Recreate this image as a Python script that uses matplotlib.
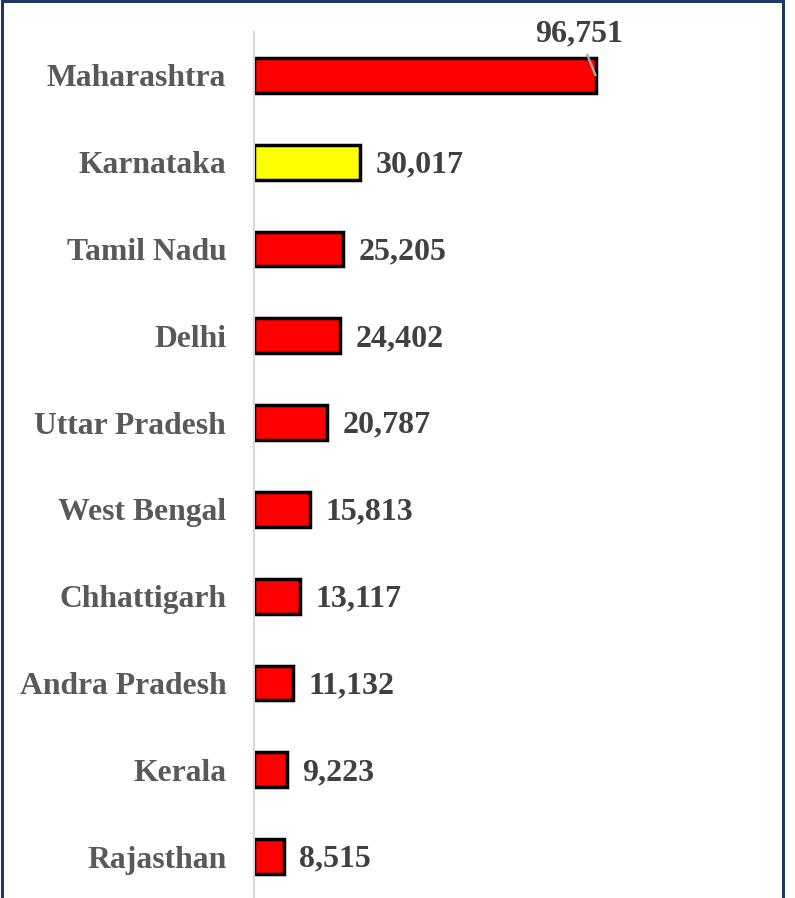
import matplotlib.pyplot as plt
from matplotlib.patches import Rectangle

# Data
states = ['Maharashtra', 'Karnataka', 'Tamil Nadu', 'Delhi', 'Uttar Pradesh',
          'West Bengal', 'Chhattigarh', 'Andra Pradesh', 'Kerala', 'Rajasthan']
values = [96751, 30017, 25205, 24402, 20787, 15813, 13117, 11132, 9223, 8515]
highlight = 'Karnataka'

plt.rcParams['font.family'] = ['Liberation Serif', 'DejaVu Serif']
plt.rcParams['font.weight'] = 'bold'

W, H = 795, 898
fig = plt.figure(figsize=(W / 100, H / 100), dpi=100)
ax = fig.add_axes([254 / W, -2 / H, 526 / W, (H - 32 + 2) / H])

colors = ['#FFFF00' if s == highlight else '#FF0000' for s in states]
ypos = list(range(len(states)))
ax.barh(ypos, values, height=0.40, color=colors, edgecolor='black', linewidth=2.5)

ax.set_ylim(len(states) - 0.5, -0.5)
ax.set_xlim(0, 149000)
ax.set_yticks(ypos)
ax.set_yticklabels(states, fontsize=22.8, color='#595959', fontweight='bold')
ax.tick_params(axis='y', length=0, pad=20)
ax.set_xticks([])
for side in ['top', 'right', 'bottom']:
    ax.spines[side].set_visible(False)
ax.spines['left'].set_color('#D9D9D9')
ax.spines['left'].set_linewidth(1.5)

# Value labels
for i, v in enumerate(values):
    if i == 0:
        ax.annotate(f'{v:,}', xy=(v, i), xytext=(-12, 30), textcoords='offset points',
                    ha='center', va='center', fontsize=23, fontweight='bold', color='#404040',
                    arrowprops=dict(arrowstyle='-', color='#A6A6A6', lw=1.8,
                                    shrinkA=3, shrinkB=0))
    else:
        ax.annotate(f'{v:,}', xy=(v, i), xytext=(11, -2), textcoords='offset points',
                    ha='left', va='center', fontsize=23, fontweight='bold', color='#404040')

# Outer border of the chart area
fig.patches.append(Rectangle((1.5 / W, -0.05), 781.5 / W, 1.05 - 1.5 / H,
                             transform=fig.transFigure, fill=False,
                             edgecolor='#203864', linewidth=2.2))

plt.savefig('out.png', dpi=100)
